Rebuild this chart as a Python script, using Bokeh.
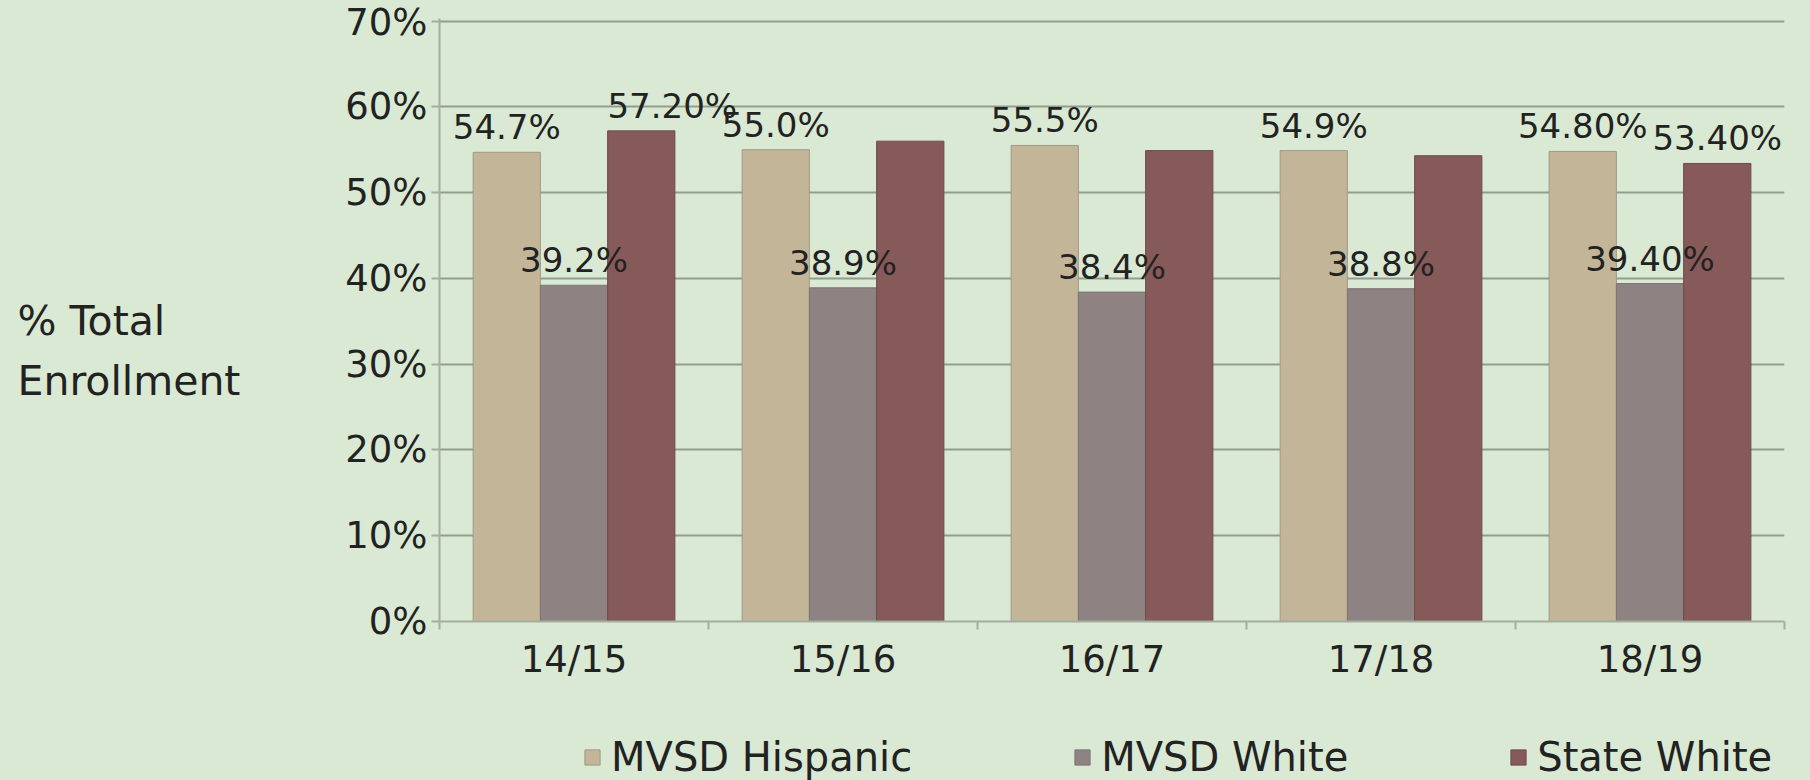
from bokeh.plotting import figure
from bokeh.layouts import row, column
from bokeh.models import Range1d, FixedTicker, PrintfTickFormatter, Legend, LegendItem
from bokeh.core.properties import value
from bokeh.embed import file_html
from bokeh.resources import INLINE

# ---- data ----
years = ["14/15", "15/16", "16/17", "17/18", "18/19"]
mvsd_hispanic = [54.7, 55.0, 55.5, 54.9, 54.8]
mvsd_white = [39.2, 38.9, 38.4, 38.8, 39.4]
state_white = [57.2, 56.0, 54.9, 54.3, 53.4]
hispanic_labels = ["54.7%", "55.0%", "55.5%", "54.9%", "54.80%"]
white_labels = ["39.2%", "38.9%", "38.4%", "38.8%", "39.40%"]
state_labels = ["57.20%", "", "", "", "53.40%"]
series_names = ["MVSD Hispanic", "MVSD White", "State White"]
y_ticks = [0, 10, 20, 30, 40, 50, 60, 70]
y_title_lines = ["% Total", "Enrollment"]

# ---- style / layout ----
W, H = 1810, 780
LEFT_W = 280
MAIN_H = 700
BG = "#d9e9d3"
GRID = "#919d8e"
AXIS = "#a3ae9f"
TEXT = "#222222"
FONT = "DejaVu Sans"
colors = ["#c3b597", "#8e8282", "#875a5a"]
edges = ["#a09a88", "#7d7474", "#6e4a4a"]
BAR_W = 0.25
offsets = [-0.25, 0.0, 0.25]
label_dx = [[0] * 5, [0] * 5, [31, 0, 0, 0, 0]]
NAN = float("nan")


def blank_fig(w, h, x_end, y_start, y_end):
    f = figure(width=w, height=h, output_backend="svg", toolbar_location=None,
               x_range=Range1d(0, x_end), y_range=Range1d(y_start, y_end),
               x_axis_type=None, y_axis_type=None, min_border=0)
    f.background_fill_color = BG
    f.border_fill_color = BG
    f.outline_line_color = None
    return f


# ---- left: axis title ----
tf = blank_fig(LEFT_W, H, LEFT_W, H, 0)
tf.text(x=[17, 17], y=[320, 380], text=y_title_lines, text_align="left", text_baseline="alphabetic",
        text_font=value(FONT), text_font_size="41px", text_color=TEXT)

# ---- main chart ----
p = figure(width=W - LEFT_W, height=MAIN_H, output_backend="svg", toolbar_location=None,
           x_range=Range1d(0, len(years)), y_range=Range1d(0, 70.3),
           min_border_left=159, min_border_right=26, min_border_top=18, min_border_bottom=79)
p.background_fill_color = BG
p.border_fill_color = BG
p.outline_line_color = None
p.xgrid.grid_line_color = None
p.ygrid.grid_line_color = GRID
p.ygrid.grid_line_width = 2
p.ygrid.ticker = FixedTicker(ticks=y_ticks)

centers = [i + 0.5 for i in range(len(years))]
series = [mvsd_hispanic, mvsd_white, state_white]
label_sets = [hispanic_labels, white_labels, state_labels]
bar_x = [[c + offsets[k] for c in centers] for k in range(len(series))]

# bars first, then all value labels on top of them
for k, vals in enumerate(series):
    p.vbar(x=bar_x[k], top=vals, width=BAR_W, fill_color=colors[k], line_color=edges[k], line_width=1)
for k, vals in enumerate(series):
    p.text(x=bar_x[k], y=vals, text=label_sets[k], x_offset=label_dx[k], y_offset=-25,
           text_align="center", text_baseline="alphabetic",
           text_font=value(FONT), text_font_size="34px", text_color=TEXT)

p.yaxis.ticker = FixedTicker(ticks=y_ticks)
p.yaxis.formatter = PrintfTickFormatter(format="%d%%")
p.yaxis.axis_line_color = AXIS
p.yaxis.axis_line_width = 2
p.yaxis.major_tick_line_color = AXIS
p.yaxis.major_tick_line_width = 2
p.yaxis.major_tick_out = 8
p.yaxis.major_tick_in = 0
p.yaxis.minor_tick_line_color = None
p.yaxis.major_label_standoff = 4
p.yaxis.major_label_text_font = FONT
p.yaxis.major_label_text_font_size = "37px"
p.yaxis.major_label_text_color = TEXT

p.xaxis.ticker = FixedTicker(ticks=centers, minor_ticks=list(range(len(years) + 1)))
p.xaxis.major_label_overrides = {c: y for c, y in zip(centers, years)}
p.xaxis.axis_line_color = AXIS
p.xaxis.axis_line_width = 2
p.xaxis.major_tick_line_color = None
p.xaxis.major_tick_out = 8
p.xaxis.major_tick_in = 0
p.xaxis.minor_tick_line_color = AXIS
p.xaxis.minor_tick_line_width = 2
p.xaxis.minor_tick_out = 8
p.xaxis.minor_tick_in = 0
p.xaxis.major_label_standoff = 8
p.xaxis.major_label_text_font = FONT
p.xaxis.major_label_text_font_size = "37px"
p.xaxis.major_label_text_color = TEXT

# ---- legend strip (its frame is aligned with the main frame by the column layout) ----
lf = blank_fig(W - LEFT_W, H - MAIN_H, 1, 0, 1)
keys = [lf.scatter(x=[NAN], y=[NAN], marker="square", fill_color=c, line_color=e)
        for c, e in zip(colors, edges)]
legend = Legend(items=[LegendItem(label=n, renderers=[r]) for n, r in zip(series_names, keys)],
                orientation="horizontal", location=(134, 0), spacing=151,
                glyph_width=38, glyph_height=38, label_standoff=0, padding=0, margin=0,
                border_line_color=None, background_fill_alpha=0,
                label_text_font=FONT, label_text_font_size="40px", label_text_color=TEXT)
lf.add_layout(legend)

layout = row(tf, column(p, lf))
html = file_html(layout, INLINE)
html = html.replace("</head>", "<style>html,body{margin:0;padding:0;background:%s;overflow:hidden;}</style></head>" % BG, 1)
open("out.html", "w").write(html)
